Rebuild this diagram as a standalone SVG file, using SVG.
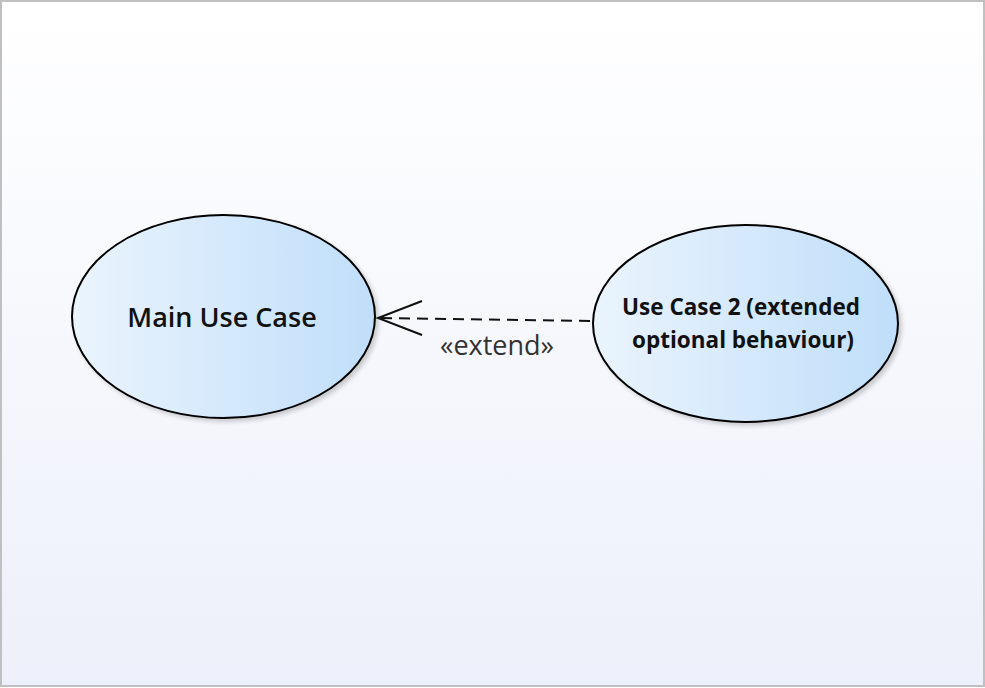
<svg xmlns="http://www.w3.org/2000/svg" width="985" height="688" viewBox="0 0 985 688">
<defs>
<linearGradient id="bg" x1="0" y1="0" x2="0" y2="1">
<stop offset="0" stop-color="#ffffff"/>
<stop offset="1" stop-color="#edf0fa"/>
</linearGradient>
<linearGradient id="uc" x1="0" y1="0" x2="1" y2="0">
<stop offset="0" stop-color="#eaf4fd"/>
<stop offset="1" stop-color="#c0defa"/>
</linearGradient>
<filter id="sh" x="-10%" y="-10%" width="125%" height="125%">
<feGaussianBlur in="SourceAlpha" stdDeviation="2"/>
<feOffset dx="3" dy="3" result="b"/>
<feComponentTransfer><feFuncA type="linear" slope="0.18"/></feComponentTransfer>
<feMerge><feMergeNode/><feMergeNode in="SourceGraphic"/></feMerge>
</filter>
</defs>
<style>
.uc{fill:url(#uc);stroke:#000;stroke-width:2;filter:url(#sh)}
.t1{font-family:"Open Sans","Noto Sans",sans-serif;font-size:27px;font-weight:600;fill:#111;text-anchor:middle}
.t2{font-family:"Open Sans","Noto Sans",sans-serif;font-size:22.5px;font-weight:700;fill:#111;text-anchor:middle}
.lbl{font-family:"Open Sans","Noto Sans",sans-serif;font-size:27px;fill:#333;text-anchor:middle}
.dash{stroke:#111;stroke-width:2;fill:none;stroke-dasharray:11,7}
.arr{stroke:#111;stroke-width:2;fill:none}
</style>
<rect x="1" y="1" width="983" height="685" fill="url(#bg)" stroke="#c0c0c0" stroke-width="2"/>
<g id="main-use-case">
<ellipse class="uc" cx="223.5" cy="316.5" rx="151.5" ry="101.5"/>
<text class="t1" x="222" y="327">Main Use Case</text>
</g>
<g id="use-case-2">
<ellipse class="uc" cx="745.5" cy="323.5" rx="152.5" ry="98.5"/>
<text class="t2" x="741" y="315">Use Case 2 (extended</text>
<text class="t2" x="743" y="348">optional behaviour)</text>
</g>
<g id="connectors">
<line class="dash" x1="590" y1="321" x2="381" y2="318"/>
<polyline class="arr" points="422,301 378,318 422,335"/>
<text class="lbl" x="497" y="355">«extend»</text>
</g>
</svg>
